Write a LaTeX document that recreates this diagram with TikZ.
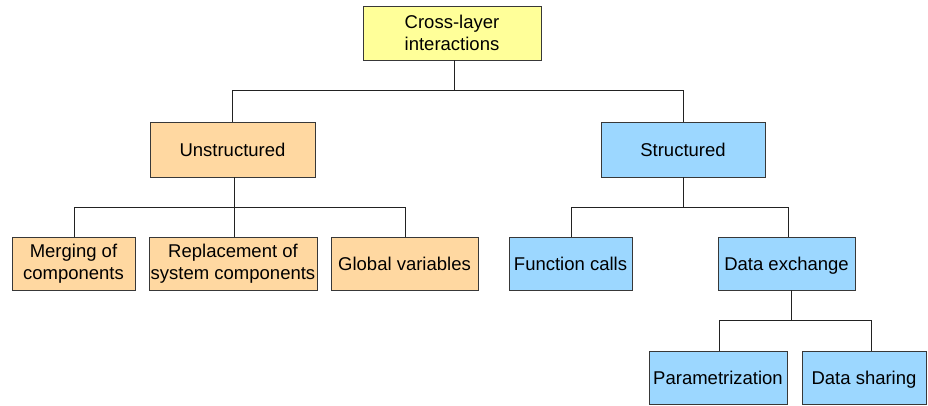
\documentclass[tikz,border=0pt]{standalone}
\usepackage{fontspec}
\setmainfont{Liberation Sans}
\definecolor{cyel}{HTML}{FFFF99}
\definecolor{corg}{HTML}{FFD8A1}
\definecolor{cblu}{HTML}{9CD7FF}
\definecolor{cline}{HTML}{222222}
\begin{document}
\begin{tikzpicture}[x=1pt,y=-1pt,
  box/.style={draw=cline!90,line width=0.9pt,inner sep=0pt,align=center,
    font=\fontsize{18.5}{21.5}\selectfont},
  one/.style={text height=13pt,text depth=0pt},
  ybox/.style={box,fill=cyel},
  obox/.style={box,fill=corg},
  bbox/.style={box,fill=cblu},
  conn/.style={draw=cline,line width=0.9pt}]
\useasboundingbox (0,0) rectangle (928,405);
% nodes
\node[ybox,minimum width=178,minimum height=54] (top) at (452,33) {Cross-layer\\interactions};
\node[obox,one,minimum width=165,minimum height=55] (uns) at (232.5,149.5) {Unstructured};
\node[bbox,one,minimum width=164,minimum height=55] (str) at (683,149.5) {Structured};
\node[obox,minimum width=123,minimum height=53] (merg) at (73.5,263.5) {Merging of\\components};
\node[obox,minimum width=168,minimum height=53] (repl) at (233,263.5) {Replacement of\\system components};
\node[obox,one,minimum width=147,minimum height=53] (glob) at (404.5,263.5) {Global variables};
\node[bbox,one,minimum width=123,minimum height=53] (func) at (570.5,263.5) {Function calls};
\node[bbox,one,minimum width=137,minimum height=53] (dex) at (786.5,263.5) {Data exchange};
\node[bbox,one,minimum width=138,minimum height=53] (par) at (718,377.5) {Parametrization};
\node[bbox,one,minimum width=124,minimum height=53] (dsh) at (864,377.5) {Data sharing};
% connectors
\coordinate (b1) at ([xshift=2]top.south);
\draw[conn] (b1) -- ++(0,30) coordinate (j1);
\draw[conn] (uns.north) |- (j1) -| (str.north);
\coordinate (b2) at ([xshift=1.5]uns.south);
\draw[conn] (b2) -- ++(0,30) coordinate (j2);
\draw[conn] ([xshift=0.5]merg.north) |- (j2) -| ([xshift=0.5]glob.north);
\draw[conn] (j2) -- (j2 |- repl.north);
\draw[conn] (str.south) -- ++(0,30) coordinate (j3);
\draw[conn] ([xshift=0.5]func.north) |- (j3) -| ([xshift=1.5]dex.north);
\coordinate (b4) at ([xshift=4.5]dex.south);
\draw[conn] (b4) -- ++(0,30) coordinate (j4);
\draw[conn] ([xshift=1]par.north) |- (j4) -| ([xshift=7]dsh.north);
\end{tikzpicture}
\end{document}
